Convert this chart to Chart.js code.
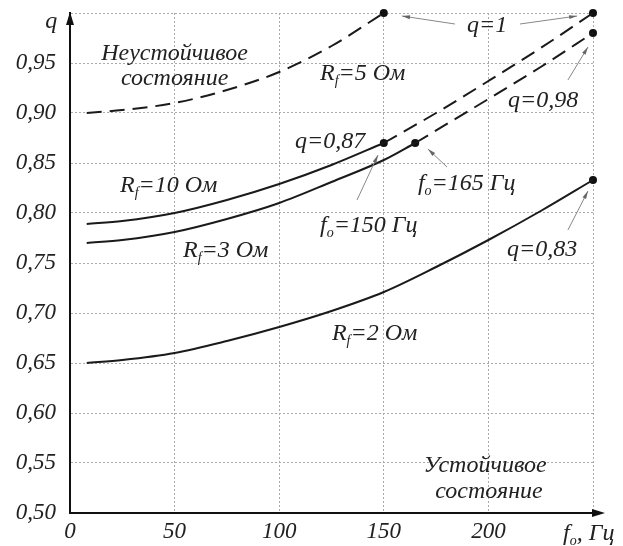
<!DOCTYPE html>
<html>
<head>
<meta charset="utf-8">
<script src="https://cdn.jsdelivr.net/npm/chart.js@4.4.0/dist/chart.umd.min.js"></script>
<style>
  body { margin: 0; background: #fff; }
  #wrap { width: 623px; height: 546px; position: relative; }
</style>
</head>
<body>
<div id="wrap"><canvas id="chart"></canvas></div>
<script>
/* data: f in Hz, q */
const fRf5 = [8, 25, 50, 75, 100, 125, 150];
const qRf5 = [0.900, 0.903, 0.910, 0.923, 0.941, 0.967, 1.000];

const fRf10 = [8, 25, 50, 75, 100, 125, 150];
const qRf10 = [0.789, 0.792, 0.800, 0.813, 0.829, 0.848, 0.870];
const fRf10Dash = [150, 175, 200, 225, 250];
const qRf10Dash = [0.870, 0.900, 0.932, 0.965, 1.000];

const fRf3 = [8, 25, 50, 75, 100, 125, 150, 165];
const qRf3 = [0.770, 0.773, 0.781, 0.794, 0.810, 0.831, 0.853, 0.870];
const fRf3Dash = [165, 200, 225, 250];
const qRf3Dash = [0.870, 0.914, 0.946, 0.980];

const fRf2 = [8, 25, 50, 75, 100, 125, 150, 175, 200, 225, 250];
const qRf2 = [0.650, 0.653, 0.660, 0.672, 0.686, 0.702, 0.721, 0.746, 0.773, 0.802, 0.833];

const fMarks = [150, 250, 250, 150, 165, 250];
const qMarks = [1.000, 1.000, 0.980, 0.870, 0.870, 0.833];

const xTicks = [0, 50, 100, 150, 200];
const yTicks = [0.50, 0.55, 0.60, 0.65, 0.70, 0.75, 0.80, 0.85, 0.90, 0.95];

const FONT = 'italic 24px "Liberation Serif", "DejaVu Serif", serif';
const SUB = 'italic 14px "Liberation Serif", "DejaVu Serif", serif';

function pts(xs, ys) {
    return xs.map((x, i) => ({ x: x, y: ys[i] }));
}

function curve(xs, ys, dashed) {
    return {
        type: 'line',
        data: pts(xs, ys),
        borderColor: '#1a1a1a',
        borderWidth: 2,
        borderDash: dashed ? [15, 8] : [],
        pointRadius: 0,
        cubicInterpolationMode: 'monotone',
        fill: false,
        clip: false
    };
}

/* text pieces: [text, isSubscript] ; pos in data units */
const labels = [
    { p: [['Неустойчивое']], f: 50, q: 0.953, c: true },
    { p: [['состояние']], f: 50, q: 0.928, c: true },
    { p: [['R'], ['f', 1], ['=5 Ом']], f: 119.5, q: 0.933 },
    { p: [['q=1']], f: 189.8, q: 0.981 },
    { p: [['q=0,98']], f: 209.4, q: 0.906 },
    { p: [['q=0,87']], f: 107.6, q: 0.865 },
    { p: [['R'], ['f', 1], ['=10 Ом']], f: 23.9, q: 0.821 },
    { p: [['R'], ['f', 1], ['=3 Ом']], f: 54, q: 0.756 },
    { p: [['f'], ['o', 1], ['=150 Гц']], f: 119.5, q: 0.781 },
    { p: [['f'], ['o', 1], ['=165 Гц']], f: 166.3, q: 0.823 },
    { p: [['q=0,83']], f: 208.9, q: 0.757 },
    { p: [['R'], ['f', 1], ['=2 Ом']], f: 125.2, q: 0.673 },
    { p: [['Устойчивое']], f: 198.4, q: 0.541, c: true },
    { p: [['состояние']], f: 200.3, q: 0.515, c: true },
    { p: [['f'], ['o', 1], [', Гц']], f: 235.7, q: 0.473 },
    { p: [['q']], f: -9, q: 0.985, c: true }
];

const pointers = [
    [184.0, 0.989, 158.7, 0.997],
    [215.1, 0.989, 242.4, 0.997],
    [238.0, 0.933, 247.6, 0.966],
    [137.2, 0.813, 147.2, 0.858],
    [180.2, 0.846, 171.1, 0.864],
    [238.0, 0.783, 247.6, 0.822]
];

function drawRich(ctx, parts, x, y, center) {
    let w = 0;
    parts.forEach(p => { ctx.font = p[1] ? SUB : FONT; w += ctx.measureText(p[0]).width; });
    let cx = center ? x - w / 2 : x;
    parts.forEach(p => {
        ctx.font = p[1] ? SUB : FONT;
        ctx.fillText(p[0], cx, p[1] ? y + 5 : y);
        cx += ctx.measureText(p[0]).width;
    });
}

function arrowHead(ctx, x1, y1, x2, y2, len, wid) {
    const a = Math.atan2(y2 - y1, x2 - x1);
    ctx.beginPath();
    ctx.moveTo(x2, y2);
    ctx.lineTo(x2 - len * Math.cos(a) + wid * Math.sin(a), y2 - len * Math.sin(a) - wid * Math.cos(a));
    ctx.lineTo(x2 - len * Math.cos(a) - wid * Math.sin(a), y2 - len * Math.sin(a) + wid * Math.cos(a));
    ctx.closePath();
    ctx.fill();
}

const extras = {
    id: 'extras',
    afterDraw(chart) {
        const ctx = chart.ctx, xs = chart.scales.x, ys = chart.scales.y;
        const a = chart.chartArea;
        ctx.save();

        // axis arrows
        ctx.strokeStyle = '#111';
        ctx.fillStyle = '#111';
        ctx.lineWidth = 2;
        ctx.beginPath();
        ctx.moveTo(a.right, a.bottom);
        ctx.lineTo(a.right + 8, a.bottom);
        ctx.stroke();
        arrowHead(ctx, a.left, a.bottom, a.right + 12, a.bottom, 13, 4);
        arrowHead(ctx, a.left, a.bottom, a.left, a.top - 1, 13, 4);

        // pointer arrows
        ctx.strokeStyle = '#888';
        ctx.fillStyle = '#666';
        ctx.lineWidth = 1;
        pointers.forEach(p => {
            const x1 = xs.getPixelForValue(p[0]), y1 = ys.getPixelForValue(p[1]);
            const x2 = xs.getPixelForValue(p[2]), y2 = ys.getPixelForValue(p[3]);
            ctx.beginPath();
            ctx.moveTo(x1, y1);
            ctx.lineTo(x2, y2);
            ctx.stroke();
            arrowHead(ctx, x1, y1, x2, y2, 8, 2);
        });

        // text
        ctx.fillStyle = '#222';
        ctx.textBaseline = 'alphabetic';
        ctx.textAlign = 'left';
        labels.forEach(l => {
            drawRich(ctx, l.p, xs.getPixelForValue(l.f), ys.getPixelForValue(l.q), l.c);
        });
        ctx.restore();
    }
};

new Chart(document.getElementById('chart'), {
    type: 'line',
    data: {
        datasets: [
            curve(fRf5, qRf5, true),
            curve(fRf10, qRf10, false),
            curve(fRf10Dash, qRf10Dash, true),
            curve(fRf3, qRf3, false),
            curve(fRf3Dash, qRf3Dash, true),
            curve(fRf2, qRf2, false),
            {
                type: 'scatter',
                data: pts(fMarks, qMarks),
                pointRadius: 4,
                pointBackgroundColor: '#111',
                pointBorderWidth: 0,
                showLine: false,
                clip: false
            }
        ]
    },
    plugins: [extras],
    options: {
        responsive: true,
        maintainAspectRatio: false,
        animation: false,
        layout: { padding: { top: 13, right: 30, left: 0, bottom: 0 } },
        plugins: { legend: { display: false }, tooltip: { enabled: false } },
        scales: {
            x: {
                type: 'linear', min: 0, max: 250,
                afterBuildTicks: s => { s.ticks = xTicks.concat([250]).map(v => ({ value: v })); },
                afterFit: s => { s.height = 33; s.paddingLeft = 0; s.paddingRight = 0; },
                ticks: {
                    callback: v => v === 250 ? '' : v,
                    font: { family: '"Liberation Serif", serif', style: 'italic', size: 23 },
                    color: '#222', padding: 5, maxRotation: 0
                },
                grid: { color: '#aaa', lineWidth: 1, drawTicks: false },
                border: { color: '#111', width: 2, dash: [2, 2] }
            },
            y: {
                type: 'linear', min: 0.5, max: 1.0,
                afterBuildTicks: s => { s.ticks = yTicks.concat([1.0]).map(v => ({ value: v })); },
                afterFit: s => { s.width = 70; s.paddingTop = 0; s.paddingBottom = 0; },
                ticks: {
                    callback: v => v === 1 ? '' : v.toFixed(2).replace('.', ','),
                    font: { family: '"Liberation Serif", serif', style: 'italic', size: 23 },
                    color: '#222', padding: 14
                },
                grid: { color: '#aaa', lineWidth: 1, drawTicks: false },
                border: { color: '#111', width: 2, dash: [2, 2] }
            }
        }
    }
});
</script>
</body>
</html>
